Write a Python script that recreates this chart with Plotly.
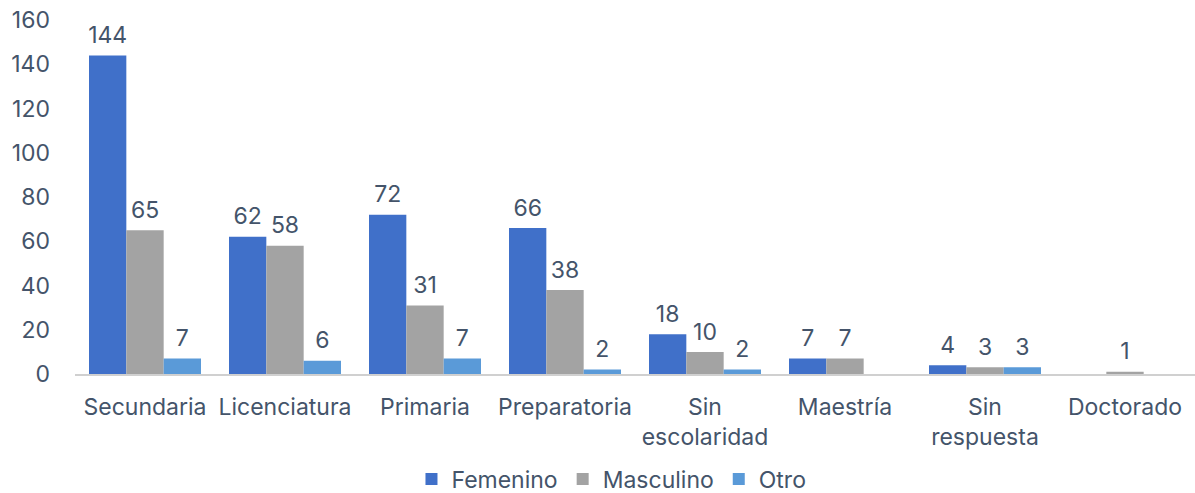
import plotly.graph_objects as go

categories = ["Secundaria", "Licenciatura", "Primaria", "Preparatoria",
              "Sin<br>escolaridad", "Maestría", "Sin<br>respuesta", "Doctorado"]
femenino = [144, 62, 72, 66, 18, 7, 4, None]
masculino = [65, 58, 31, 38, 10, 7, 3, 1]
otro = [7, 6, 7, 2, 2, None, 3, None]

series = [("Femenino", femenino, "#4070c9"),
          ("Masculino", masculino, "#a3a3a3"),
          ("Otro", otro, "#5a9ad8")]

txt = "#44546a"
fnt = "Inter, Noto Sans, sans-serif"
fs = 23

fig = go.Figure()
for name, vals, col in series:
    fig.add_trace(go.Bar(
        name=name, x=categories, y=vals, offsetgroup=name,
        marker=dict(color=col, line=dict(width=0)),
    ))
for name, vals, col in series:
    fig.add_trace(go.Scatter(
        x=categories, y=vals, offsetgroup=name, mode="markers+text",
        marker=dict(size=9, opacity=0), showlegend=False, hoverinfo="skip",
        text=[("" if v is None else str(v)) for v in vals],
        textposition="top center", cliponaxis=False,
        textfont=dict(size=fs, color=txt, family=fnt),
    ))

fig.update_layout(
    width=1195, height=493,
    barmode="group", bargap=0.2, bargroupgap=0,
    scattermode="group", scattergap=0.2,
    plot_bgcolor="white", paper_bgcolor="white",
    margin=dict(l=75, r=0, t=20, b=119, autoexpand=False),
    font=dict(family=fnt, size=fs, color=txt),
    showlegend=True,
    legend=dict(orientation="h", x=0.479, xanchor="center",
                y=-0.236, yanchor="top",
                font=dict(size=fs, color=txt), itemwidth=30, traceorder="normal"),
)
fig.update_yaxes(range=[0, 160], dtick=20, showgrid=False, zeroline=False,
                 showline=False, ticks="", ticklabelstandoff=24, automargin=False,
                 tickfont=dict(size=fs, color=txt))
fig.update_xaxes(showgrid=False, showline=True, linecolor="#d0d0d0", linewidth=1.5,
                 ticks="", tickfont=dict(size=fs, color=txt), ticklabelstandoff=12,
                 automargin=False)

fig.write_html("out.html", config={"displayModeBar": False},
               post_script="document.body.style.margin='0';")
